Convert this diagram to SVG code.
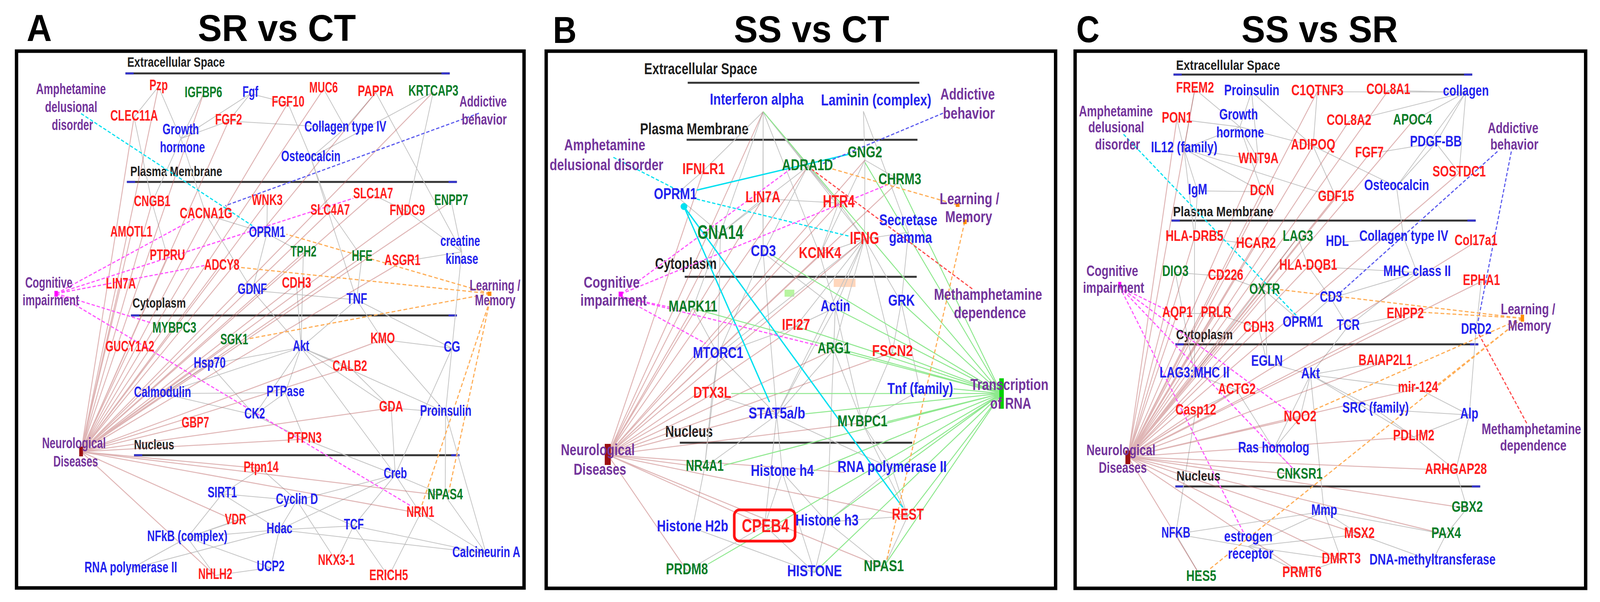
<svg xmlns="http://www.w3.org/2000/svg" width="4262" height="1542" viewBox="0 0 4262 1542">
<style>
text{font-family:"Liberation Sans",Arial,Helvetica,sans-serif;font-weight:bold;font-size:38px}
.ttl{font-size:96px;fill:#000}
.B text{font-size:40px}
.r{fill:#ff1e1e}.b{fill:#2222ee}.g{fill:#0a7d28}.p{fill:#74359c}.k{fill:#1e1e1e}
.cmp{font-size:36px}
.frame{fill:none;stroke:#000;stroke-width:9}
.cl{stroke:#333;stroke-width:5}
.ct{stroke:#3333cc;stroke-width:5}
.eg{stroke:#c4c4c4;stroke-width:2;fill:none}
.en{stroke:#b85a5a;stroke-opacity:.45;stroke-width:2.5;fill:none}
.ep{stroke:#ff55ff;stroke-width:3;stroke-dasharray:9 5;fill:none}
.ec{stroke:#00e0f0;stroke-width:3;stroke-dasharray:9 5;fill:none}
.ecs{stroke:#00e0f0;stroke-width:3.5;fill:none}
.eb{stroke:#5a5aee;stroke-width:3;stroke-dasharray:9 5;fill:none}
.eo{stroke:#ffad55;stroke-width:3;stroke-dasharray:10 6;fill:none}
.er{stroke:#ff4a4a;stroke-width:3;stroke-dasharray:9 5;fill:none}
.egr{stroke:#8ee88e;stroke-width:2.5;fill:none}
</style>
<rect width="4262" height="1542" fill="#fff"/>
<g id="diagram" transform="matrix(0.961 0 0 1 0 0)">

<g id="titles">
<text class="ttl" x="71" y="105" textLength="67" lengthAdjust="spacingAndGlyphs">A</text>
<text class="ttl" x="527" y="105" textLength="421" lengthAdjust="spacingAndGlyphs">SR vs CT</text>
<text class="ttl" x="1473" y="110" textLength="63" lengthAdjust="spacingAndGlyphs">B</text>
<text class="ttl" x="1955" y="108" textLength="414" lengthAdjust="spacingAndGlyphs">SS vs CT</text>
<text class="ttl" x="2867" y="108" textLength="62" lengthAdjust="spacingAndGlyphs">C</text>
<text class="ttl" x="3307" y="108" textLength="417" lengthAdjust="spacingAndGlyphs">SS vs SR</text>
</g>

<!-- ================= PANEL A ================= -->
<g id="panelA-frame">
<rect class="frame" x="44" y="131" width="1352" height="1375"/>
<line class="cl" x1="334" y1="188" x2="1198" y2="188"/><line class="ct" x1="334" y1="188" x2="356" y2="188"/><line class="ct" x1="1176" y1="188" x2="1198" y2="188"/>
<line class="cl" x1="338" y1="466" x2="1217" y2="466"/><line class="ct" x1="338" y1="466" x2="360" y2="466"/><line class="ct" x1="1195" y1="466" x2="1217" y2="466"/>
<line class="cl" x1="349" y1="808" x2="1217" y2="808"/><line class="ct" x1="349" y1="808" x2="371" y2="808"/><line class="ct" x1="1195" y1="808" x2="1217" y2="808"/>
<line class="cl" x1="357" y1="1166" x2="1224" y2="1166"/><line class="ct" x1="357" y1="1166" x2="379" y2="1166"/><line class="ct" x1="1202" y1="1166" x2="1224" y2="1166"/>
<text class="k cmp" x="339" y="171" textLength="260" lengthAdjust="spacingAndGlyphs">Extracellular Space</text>
<text class="k cmp" x="347" y="451" textLength="245" lengthAdjust="spacingAndGlyphs">Plasma Membrane</text>
<text class="k cmp" x="353" y="788" textLength="142" lengthAdjust="spacingAndGlyphs">Cytoplasm</text>
<text class="k cmp" x="357" y="1151" textLength="107" lengthAdjust="spacingAndGlyphs">Nucleus</text>
</g>

<g id="connectors-A">
<path class="eg" d="M422 222L482 355M422 222L357 300M542 240L482 355M667 240L609 310M667 240L767 264M667 240L482 355M609 310L482 355M609 310L920 328M767 264L828 404M862 228L920 328M1001 237L920 328M1001 237L1230 645M1154 236L828 404M1154 236L1085 542M920 328L828 404M482 355L549 550M482 355L405 519M828 404L879 541M828 404L950 768M357 300L405 519M405 519L446 657M549 550L711 598M549 550L672 744M712 516L711 598M711 598L808 648M711 598L672 744M879 541L964 659M994 499L1085 542M1085 542L1230 645M1202 516L1230 645M964 659L950 768M1072 670L1230 645M808 648L802 890M672 744L802 890M672 744L950 768M950 768L802 890M950 768L1019 870M950 768L1204 892M1230 645L1204 892M790 728L802 890M802 890L558 933M802 890L760 1006M802 890L932 941M802 890L433 1008M802 890L678 1063M802 890L1042 1045M802 890L1187 1056M802 890L1053 1216M558 933L433 1008M558 933L678 1063M433 1008L760 1006M433 1008L678 1063M760 1006L678 1063M1019 870L1187 1056M1019 870L1204 892M1204 892L1187 1056M1204 892L1053 1216M932 941L1042 1045M1042 1045L1187 1056M1042 1045L1053 1216M1187 1056L1186 1270M1187 1056L1295 1418M678 1063L811 1125M760 1006L811 1125M811 1125L1053 1216M695 1200L791 1282M695 1200L592 1265M1053 1216L791 1282M1053 1216L1186 1270M1053 1216L942 1347M1053 1216L744 1357M592 1265L499 1377M592 1265L744 1357M592 1265L791 1282M791 1282L744 1357M791 1282L942 1347M791 1282L896 1438M744 1357L499 1377M744 1357L721 1454M744 1357L942 1347M942 1347L896 1438M499 1377L348 1457M499 1377L573 1474M499 1377L721 1454M499 1377L627 1334M627 1334L791 1282M1120 1315L1295 1418M1120 1315L1035 1477M1186 1270L1295 1418M573 1474L721 1454M1295 1418L942 1347M1295 1418L744 1357M1035 1477L942 1347M1120 1315L1053 1216M348 1457L744 1357M499 1377L791 1282"/>
<path class="en" d="M216 1157L422 222M216 1157L542 240M216 1157L357 300M216 1157L609 310M216 1157L767 264M216 1157L862 228M216 1157L1001 237M216 1157L1154 236M216 1157L405 519M216 1157L712 516M216 1157L549 550M216 1157L994 499M216 1157L879 541M216 1157L1085 542M216 1157L1202 516M216 1157L350 597M216 1157L446 657M216 1157L591 682M216 1157L808 648M216 1157L964 659M216 1157L1072 670M216 1157L322 730M216 1157L790 728M216 1157L464 843M216 1157L624 873M216 1157L346 891M216 1157L1019 870M216 1157L932 941M216 1157L1042 1045M216 1157L520 1086M216 1157L811 1125M216 1157L695 1200M216 1157L1186 1270M216 1157L1120 1315M216 1157L627 1334M216 1157L573 1474"/>
<line class="ec" x1="216" y1="291" x2="672" y2="578"/>
<line class="eb" x1="1276" y1="290" x2="600" y2="527"/>
<path class="ep" d="M150 752L516 561M150 752L663 594M150 752L941 508M150 752L545 680M150 752L283 728M150 752L406 828M150 752L1093 1295"/>
<path class="eo" d="M1305 752L763 600M1305 752L640 685M1305 752L661 868M1305 770L1120 1305M1305 770L1195 1262"/>
</g>

<g id="nodes-A">
<g id="A-Pzp" class="r"><text x="398" y="231" textLength="49" lengthAdjust="spacingAndGlyphs">Pzp</text></g>
<g id="A-IGFBP6" class="g"><text x="492" y="249" textLength="100" lengthAdjust="spacingAndGlyphs">IGFBP6</text></g>
<g id="A-Fgf" class="b"><text x="646" y="248" textLength="42" lengthAdjust="spacingAndGlyphs">Fgf</text></g>
<g id="A-CLEC11A" class="r"><text x="294" y="309" textLength="127" lengthAdjust="spacingAndGlyphs">CLEC11A</text></g>
<g id="A-FGF2" class="r"><text x="573" y="319" textLength="72" lengthAdjust="spacingAndGlyphs">FGF2</text></g>
<g id="A-FGF10" class="r"><text x="724" y="273" textLength="87" lengthAdjust="spacingAndGlyphs">FGF10</text></g>
<g id="A-MUC6" class="r"><text x="824" y="237" textLength="76" lengthAdjust="spacingAndGlyphs">MUC6</text></g>
<g id="A-PAPPA" class="r"><text x="953" y="246" textLength="96" lengthAdjust="spacingAndGlyphs">PAPPA</text></g>
<g id="A-KRTCAP3" class="g"><text x="1088" y="245" textLength="133" lengthAdjust="spacingAndGlyphs">KRTCAP3</text></g>
<g id="A-GrowthHormone" class="b"><text x="433" y="344" textLength="97" lengthAdjust="spacingAndGlyphs">Growth</text><text x="426" y="390" textLength="120" lengthAdjust="spacingAndGlyphs">hormone</text></g>
<g id="A-CollagenIV" class="b"><text x="811" y="337" textLength="218" lengthAdjust="spacingAndGlyphs">Collagen type IV</text></g>
<g id="A-Osteocalcin" class="b"><text x="749" y="413" textLength="158" lengthAdjust="spacingAndGlyphs">Osteocalcin</text></g>
<g id="A-CNGB1" class="r"><text x="357" y="528" textLength="97" lengthAdjust="spacingAndGlyphs">CNGB1</text></g>
<g id="A-WNK3" class="r"><text x="671" y="525" textLength="82" lengthAdjust="spacingAndGlyphs">WNK3</text></g>
<g id="A-CACNA1G" class="r"><text x="479" y="559" textLength="140" lengthAdjust="spacingAndGlyphs">CACNA1G</text></g>
<g id="A-SLC1A7" class="r"><text x="941" y="508" textLength="106" lengthAdjust="spacingAndGlyphs">SLC1A7</text></g>
<g id="A-SLC4A7" class="r"><text x="827" y="550" textLength="105" lengthAdjust="spacingAndGlyphs">SLC4A7</text></g>
<g id="A-FNDC9" class="r"><text x="1038" y="551" textLength="94" lengthAdjust="spacingAndGlyphs">FNDC9</text></g>
<g id="A-ENPP7" class="g"><text x="1157" y="525" textLength="90" lengthAdjust="spacingAndGlyphs">ENPP7</text></g>
<g id="A-OPRM1" class="b"><text x="663" y="607" textLength="97" lengthAdjust="spacingAndGlyphs">OPRM1</text></g>
<g id="A-AMOTL1" class="r"><text x="294" y="606" textLength="112" lengthAdjust="spacingAndGlyphs">AMOTL1</text></g>
<g id="A-PTPRU" class="r"><text x="399" y="666" textLength="94" lengthAdjust="spacingAndGlyphs">PTPRU</text></g>
<g id="A-ADCY8" class="r"><text x="544" y="691" textLength="94" lengthAdjust="spacingAndGlyphs">ADCY8</text></g>
<g id="A-TPH2" class="g"><text x="774" y="657" textLength="69" lengthAdjust="spacingAndGlyphs">TPH2</text></g>
<g id="A-HFE" class="g"><text x="937" y="668" textLength="55" lengthAdjust="spacingAndGlyphs">HFE</text></g>
<g id="A-ASGR1" class="r"><text x="1024" y="679" textLength="96" lengthAdjust="spacingAndGlyphs">ASGR1</text></g>
<g id="A-CreatineKinase" class="b"><text x="1173" y="630" textLength="106" lengthAdjust="spacingAndGlyphs">creatine</text><text x="1187" y="676" textLength="87" lengthAdjust="spacingAndGlyphs">kinase</text></g>
<g id="A-LIN7A" class="r"><text x="282" y="739" textLength="80" lengthAdjust="spacingAndGlyphs">LIN7A</text></g>
<g id="A-GDNF" class="b"><text x="633" y="753" textLength="78" lengthAdjust="spacingAndGlyphs">GDNF</text></g>
<g id="A-CDH3" class="r"><text x="751" y="737" textLength="78" lengthAdjust="spacingAndGlyphs">CDH3</text></g>
<g id="A-TNF" class="b"><text x="923" y="778" textLength="55" lengthAdjust="spacingAndGlyphs">TNF</text></g>
<g id="A-MYBPC3" class="g"><text x="406" y="852" textLength="117" lengthAdjust="spacingAndGlyphs">MYBPC3</text></g>
<g id="A-SGK1" class="g"><text x="587" y="882" textLength="74" lengthAdjust="spacingAndGlyphs">SGK1</text></g>
<g id="A-GUCY1A2" class="r"><text x="281" y="900" textLength="130" lengthAdjust="spacingAndGlyphs">GUCY1A2</text></g>
<g id="A-Akt" class="b"><text x="780" y="899" textLength="44" lengthAdjust="spacingAndGlyphs">Akt</text></g>
<g id="A-KMO" class="r"><text x="987" y="879" textLength="65" lengthAdjust="spacingAndGlyphs">KMO</text></g>
<g id="A-CG" class="b"><text x="1182" y="901" textLength="44" lengthAdjust="spacingAndGlyphs">CG</text></g>
<g id="A-Hsp70" class="b"><text x="516" y="942" textLength="85" lengthAdjust="spacingAndGlyphs">Hsp70</text></g>
<g id="A-CALB2" class="r"><text x="886" y="950" textLength="92" lengthAdjust="spacingAndGlyphs">CALB2</text></g>
<g id="A-Calmodulin" class="b"><text x="357" y="1017" textLength="152" lengthAdjust="spacingAndGlyphs">Calmodulin</text></g>
<g id="A-PTPase" class="b"><text x="710" y="1015" textLength="101" lengthAdjust="spacingAndGlyphs">PTPase</text></g>
<g id="A-GDA" class="r"><text x="1010" y="1054" textLength="64" lengthAdjust="spacingAndGlyphs">GDA</text></g>
<g id="A-Proinsulin" class="b"><text x="1119" y="1065" textLength="137" lengthAdjust="spacingAndGlyphs">Proinsulin</text></g>
<g id="A-CK2" class="b"><text x="651" y="1072" textLength="55" lengthAdjust="spacingAndGlyphs">CK2</text></g>
<g id="A-GBP7" class="r"><text x="484" y="1095" textLength="73" lengthAdjust="spacingAndGlyphs">GBP7</text></g>
<g id="A-PTPN3" class="r"><text x="765" y="1134" textLength="92" lengthAdjust="spacingAndGlyphs">PTPN3</text></g>
<g id="A-Ptpn14" class="r"><text x="649" y="1209" textLength="93" lengthAdjust="spacingAndGlyphs">Ptpn14</text></g>
<g id="A-Creb" class="b"><text x="1022" y="1225" textLength="62" lengthAdjust="spacingAndGlyphs">Creb</text></g>
<g id="A-SIRT1" class="b"><text x="553" y="1274" textLength="78" lengthAdjust="spacingAndGlyphs">SIRT1</text></g>
<g id="A-NPAS4" class="g"><text x="1139" y="1279" textLength="94" lengthAdjust="spacingAndGlyphs">NPAS4</text></g>
<g id="A-CyclinD" class="b"><text x="735" y="1291" textLength="112" lengthAdjust="spacingAndGlyphs">Cyclin D</text></g>
<g id="A-NRN1" class="r"><text x="1083" y="1324" textLength="74" lengthAdjust="spacingAndGlyphs">NRN1</text></g>
<g id="A-VDR" class="r"><text x="599" y="1343" textLength="57" lengthAdjust="spacingAndGlyphs">VDR</text></g>
<g id="A-Hdac" class="b"><text x="710" y="1366" textLength="69" lengthAdjust="spacingAndGlyphs">Hdac</text></g>
<g id="A-TCF" class="b"><text x="916" y="1356" textLength="53" lengthAdjust="spacingAndGlyphs">TCF</text></g>
<g id="A-NFkB" class="b"><text x="392" y="1386" textLength="214" lengthAdjust="spacingAndGlyphs">NFkB (complex)</text></g>
<g id="A-CalcineurinA" class="b"><text x="1205" y="1427" textLength="181" lengthAdjust="spacingAndGlyphs">Calcineurin A</text></g>
<g id="A-NKX3-1" class="r"><text x="847" y="1447" textLength="98" lengthAdjust="spacingAndGlyphs">NKX3-1</text></g>
<g id="A-UCP2" class="b"><text x="684" y="1463" textLength="74" lengthAdjust="spacingAndGlyphs">UCP2</text></g>
<g id="A-RNApolII" class="b"><text x="225" y="1466" textLength="247" lengthAdjust="spacingAndGlyphs">RNA polymerase II</text></g>
<g id="A-NHLH2" class="r"><text x="528" y="1483" textLength="91" lengthAdjust="spacingAndGlyphs">NHLH2</text></g>
<g id="A-ERICH5" class="r"><text x="984" y="1486" textLength="103" lengthAdjust="spacingAndGlyphs">ERICH5</text></g>
<g id="A-Amphetamine" class="p"><text x="96" y="241" textLength="186" lengthAdjust="spacingAndGlyphs">Amphetamine</text><text x="120" y="287" textLength="139" lengthAdjust="spacingAndGlyphs">delusional</text><text x="138" y="333" textLength="110" lengthAdjust="spacingAndGlyphs">disorder</text></g>
<g id="A-Addictive" class="p"><text x="1224" y="273" textLength="126" lengthAdjust="spacingAndGlyphs">Addictive</text><text x="1230" y="319" textLength="120" lengthAdjust="spacingAndGlyphs">behavior</text></g>
<g id="A-Cognitive" class="p"><rect x="145" y="745" width="9" height="15" fill="#ff00ff"/><text x="67" y="737" textLength="126" lengthAdjust="spacingAndGlyphs">Cognitive</text><text x="60" y="782" textLength="151" lengthAdjust="spacingAndGlyphs">impairment</text></g>
<g id="A-Learning" class="p"><rect x="1299" y="747" width="10" height="11" fill="#ff8c00"/><text x="1251" y="744" textLength="135" lengthAdjust="spacingAndGlyphs">Learning /</text><text x="1265" y="782" textLength="108" lengthAdjust="spacingAndGlyphs">Memory</text></g>
<g id="A-Neuro" class="p"><rect x="211" y="1144" width="10" height="25" fill="#9b1010"/><text x="112" y="1148" textLength="170" lengthAdjust="spacingAndGlyphs">Neurological</text><text x="142" y="1195" textLength="119" lengthAdjust="spacingAndGlyphs">Diseases</text></g>
</g>

<!-- ================= PANEL B ================= -->
<g id="panelB-frame" class="B">
<rect class="frame" x="1455" y="131" width="1357" height="1376"/>
<line class="cl" x1="1832" y1="212" x2="2449" y2="212"/>
<line class="cl" x1="1829" y1="358" x2="2444" y2="358"/>
<line class="cl" x1="1824" y1="709" x2="2442" y2="709"/>
<line class="cl" x1="1811" y1="1134" x2="2430" y2="1134"/>
<text class="k" x="1716" y="190" textLength="301" lengthAdjust="spacingAndGlyphs">Extracellular Space</text>
<text class="k" x="1705" y="344" textLength="289" lengthAdjust="spacingAndGlyphs">Plasma Membrane</text>
<text class="k" x="1745" y="689" textLength="164" lengthAdjust="spacingAndGlyphs">Cytoplasm</text>
<text class="k" x="1772" y="1119" textLength="127" lengthAdjust="spacingAndGlyphs">Nucleus</text>
<rect x="2090" y="742" width="26" height="18" fill="#b8f5a0"/>
<rect x="2221" y="714" width="58" height="21" fill="#ffd6bc"/>
</g>

<g id="connectors-B">
<path class="eg" d="M2033 286L1874 437M2033 286L2032 509M2033 286L2151 427M2033 286L2033 647M2033 286L1919 598M2033 286L2184 652M2033 286L2303 612M2033 286L2234 520M2300 285L2304 410M2300 285L2420 595M2304 410L2397 462M2304 410L2303 612M2304 410L2184 652M2151 427L2234 520M2151 427L1919 598M2151 427L2033 647M2032 509L2033 647M2032 509L1919 598M2032 509L2234 520M1799 500L1919 598M1799 500L1874 437M2234 520L2303 612M2234 520L2184 652M2303 612L2420 595M2303 612L2184 652M2303 612L2225 788M2303 612L2401 775M2303 612L2120 836M2303 612L2221 896M2303 612L1913 908M2303 612L2069 1063M2303 612L2377 903M2033 647L1913 908M2033 647L2069 1063M2033 647L2225 788M2184 652L2225 788M1919 598L1913 908M1919 598L1846 789M1846 789L1913 908M1913 908L1897 1010M1913 908L2069 1063M1913 908L1877 1197M2225 788L2221 896M2225 788L2069 1063M2225 788L2297 1083M2225 788L2203 1337M2401 775L2377 903M2401 775L2451 1000M2221 896L2069 1063M2221 896L2297 1083M2069 1063L2084 1210M2069 1063L1897 1010M2069 1063L1877 1197M2069 1063L2037 1346M2069 1063L2376 1200M1897 1010L1877 1197M1877 1197L1845 1352M2084 1210L2203 1337M2084 1210L2037 1346M2084 1210L2170 1467M2376 1200L2418 1322M2376 1200L2203 1337M2376 1200L2297 1083M2297 1083L2418 1322M2451 1000L2297 1083M2203 1337L2354 1454M2203 1337L2170 1467M2037 1346L2170 1467M2037 1346L1830 1462M2203 1337L2418 1322M2354 1454L2418 1322M1845 1352L2170 1467M2120 836L2225 788M2120 836L1913 908M2377 903L2297 1083M2420 595L2401 775"/>
<path class="en" d="M1619 1165L1874 437M1619 1165L2151 427M1619 1165L2304 410M1619 1165L2397 462M1619 1165L2032 509M1619 1165L2234 520M1619 1165L1919 598M1619 1165L2303 612M1619 1165L2184 652M1619 1165L1846 789M1619 1165L2120 836M1619 1165L2221 896M1619 1165L2377 903M1619 1165L1897 1010M1619 1165L2297 1083M1619 1165L1877 1197M1619 1165L2418 1322M1619 1165L2037 1346M1619 1165L1830 1462M1619 1165L2354 1454M1619 1165L2033 286M1619 1165L2110 1040M1619 1165L2250 1210"/>
<path class="egr" d="M2668 1008L2033 286M2668 1008L2304 416M2668 1008L2397 470M2668 1008L2050 650M2668 1008L1846 790M2668 1008L2120 836M2668 1008L2225 790M2668 1008L2221 896M2668 1008L2377 903M2668 1008L2401 775M2668 1008L2540 996M2668 1008L2145 1060M2668 1008L1948 1008M2668 1008L2364 1080M2668 1008L1928 1192M2668 1008L2168 1206M2668 1008L2376 1200M2668 1008L2203 1336M2668 1008L2170 1466M2668 1008L2354 1452M2668 1008L2418 1322M2668 1008L1886 1445"/>
<line class="ec" x1="1634" y1="403" x2="1815" y2="492"/>
<line class="ecs" x1="1856" y1="487" x2="2262" y2="395"/>
<line class="ec" x1="1856" y1="510" x2="2262" y2="605"/>
<line class="ecs" x1="1822" y1="529" x2="2405" y2="1300"/>
<line class="ecs" x1="1822" y1="529" x2="2050" y2="1030"/>
<path class="ep" d="M1654 753L2110 430M1654 753L2362 474M1654 760L1800 790M1654 760L1880 880M1654 760L2178 885"/>
<line class="eb" x1="2512" y1="290" x2="2190" y2="420"/>
<path class="eo" d="M2551 525L2215 432M2570 568L2362 1435"/>
<line class="er" x1="2590" y1="740" x2="2163" y2="434"/>
</g>

<g id="nodes-B" class="B">
<g id="B-InterferonAlpha" class="b"><text x="1891" y="268" textLength="250" lengthAdjust="spacingAndGlyphs">Interferon alpha</text></g>
<g id="B-Laminin" class="b"><text x="2187" y="270" textLength="294" lengthAdjust="spacingAndGlyphs">Laminin (complex)</text></g>
<g id="B-IFNLR1" class="r"><text x="1818" y="446" textLength="113" lengthAdjust="spacingAndGlyphs">IFNLR1</text></g>
<g id="B-ADRA1D" class="g"><text x="2083" y="436" textLength="136" lengthAdjust="spacingAndGlyphs">ADRA1D</text></g>
<g id="B-GNG2" class="g"><text x="2258" y="403" textLength="92" lengthAdjust="spacingAndGlyphs">GNG2</text></g>
<g id="B-CHRM3" class="g"><text x="2340" y="472" textLength="114" lengthAdjust="spacingAndGlyphs">CHRM3</text></g>
<g id="B-OPRM1" class="b"><circle cx="1822" cy="529" r="9" fill="#00e0f0"/><text x="1742" y="510" textLength="114" lengthAdjust="spacingAndGlyphs">OPRM1</text></g>
<g id="B-LIN7A" class="r"><text x="1986" y="518" textLength="93" lengthAdjust="spacingAndGlyphs">LIN7A</text></g>
<g id="B-HTR4" class="r"><text x="2192" y="531" textLength="85" lengthAdjust="spacingAndGlyphs" style="font-size:44px">HTR4</text></g>
<g id="B-GNA14" class="g"><text x="1858" y="612" textLength="122" lengthAdjust="spacingAndGlyphs" style="font-size:50px">GNA14</text></g>
<g id="B-Secretase" class="b"><text x="2342" y="577" textLength="155" lengthAdjust="spacingAndGlyphs">Secretase</text><text x="2368" y="622" textLength="115" lengthAdjust="spacingAndGlyphs">gamma</text></g>
<g id="B-IFNG" class="r"><text x="2264" y="625" textLength="78" lengthAdjust="spacingAndGlyphs" style="font-size:44px">IFNG</text></g>
<g id="B-CD3" class="b"><text x="2000" y="656" textLength="67" lengthAdjust="spacingAndGlyphs">CD3</text></g>
<g id="B-KCNK4" class="r"><text x="2128" y="661" textLength="113" lengthAdjust="spacingAndGlyphs">KCNK4</text></g>
<g id="B-GRK" class="b"><text x="2366" y="783" textLength="71" lengthAdjust="spacingAndGlyphs">GRK</text></g>
<g id="B-Actin" class="b"><text x="2186" y="797" textLength="79" lengthAdjust="spacingAndGlyphs">Actin</text></g>
<g id="B-MAPK11" class="g"><text x="1781" y="798" textLength="130" lengthAdjust="spacingAndGlyphs">MAPK11</text></g>
<g id="B-IFI27" class="r"><text x="2083" y="845" textLength="75" lengthAdjust="spacingAndGlyphs">IFI27</text></g>
<g id="B-ARG1" class="g"><text x="2178" y="905" textLength="87" lengthAdjust="spacingAndGlyphs">ARG1</text></g>
<g id="B-FSCN2" class="r"><text x="2323" y="912" textLength="109" lengthAdjust="spacingAndGlyphs">FSCN2</text></g>
<g id="B-MTORC1" class="b"><text x="1846" y="917" textLength="134" lengthAdjust="spacingAndGlyphs">MTORC1</text></g>
<g id="B-Tnf" class="b"><text x="2364" y="1009" textLength="175" lengthAdjust="spacingAndGlyphs">Tnf (family)</text></g>
<g id="B-DTX3L" class="r"><text x="1847" y="1019" textLength="101" lengthAdjust="spacingAndGlyphs">DTX3L</text></g>
<g id="B-STAT5" class="b"><text x="1994" y="1072" textLength="151" lengthAdjust="spacingAndGlyphs">STAT5a/b</text></g>
<g id="B-MYBPC1" class="g"><text x="2231" y="1092" textLength="133" lengthAdjust="spacingAndGlyphs">MYBPC1</text></g>
<g id="B-NR4A1" class="g"><text x="1827" y="1206" textLength="101" lengthAdjust="spacingAndGlyphs">NR4A1</text></g>
<g id="B-HistoneH4" class="b"><text x="2000" y="1219" textLength="168" lengthAdjust="spacingAndGlyphs">Histone h4</text></g>
<g id="B-RNApolII" class="b"><text x="2231" y="1209" textLength="291" lengthAdjust="spacingAndGlyphs">RNA polymerase II</text></g>
<g id="B-REST" class="r"><text x="2376" y="1331" textLength="85" lengthAdjust="spacingAndGlyphs">REST</text></g>
<g id="B-HistoneH2b" class="b"><text x="1750" y="1361" textLength="190" lengthAdjust="spacingAndGlyphs">Histone H2b</text></g>
<g id="B-CPEB4" class="r"><rect x="1956" y="1306" width="162" height="80" rx="14" fill="none" stroke="#ff1010" stroke-width="7"/><text x="1976" y="1363" textLength="126" lengthAdjust="spacingAndGlyphs" style="font-size:48px">CPEB4</text></g>
<g id="B-HistoneH3" class="b"><text x="2119" y="1346" textLength="168" lengthAdjust="spacingAndGlyphs">Histone h3</text></g>
<g id="B-PRDM8" class="g"><text x="1774" y="1471" textLength="112" lengthAdjust="spacingAndGlyphs">PRDM8</text></g>
<g id="B-HISTONE" class="b"><text x="2097" y="1476" textLength="146" lengthAdjust="spacingAndGlyphs">HISTONE</text></g>
<g id="B-NPAS1" class="g"><text x="2301" y="1463" textLength="107" lengthAdjust="spacingAndGlyphs">NPAS1</text></g>
<g id="B-Amphetamine" class="p"><text x="1503" y="385" textLength="216" lengthAdjust="spacingAndGlyphs">Amphetamine</text><text x="1464" y="436" textLength="303" lengthAdjust="spacingAndGlyphs">delusional disorder</text></g>
<g id="B-Addictive" class="p"><text x="2505" y="255" textLength="145" lengthAdjust="spacingAndGlyphs">Addictive</text><text x="2512" y="304" textLength="138" lengthAdjust="spacingAndGlyphs">behavior</text></g>
<g id="B-Cognitive" class="p"><rect x="1648" y="747" width="11" height="13" fill="#ff00ff"/><text x="1555" y="737" textLength="149" lengthAdjust="spacingAndGlyphs">Cognitive</text><text x="1546" y="783" textLength="177" lengthAdjust="spacingAndGlyphs">impairment</text></g>
<g id="B-Learning" class="p"><rect x="2546" y="520" width="10" height="10" fill="#ff8c00"/><rect x="2566" y="562" width="9" height="12" fill="#ff8c00"/><text x="2503" y="523" textLength="159" lengthAdjust="spacingAndGlyphs">Learning /</text><text x="2518" y="569" textLength="125" lengthAdjust="spacingAndGlyphs">Memory</text></g>
<g id="B-Meth" class="p"><text x="2488" y="768" textLength="288" lengthAdjust="spacingAndGlyphs">Methamphetamine</text><text x="2541" y="815" textLength="192" lengthAdjust="spacingAndGlyphs">dependence</text></g>
<g id="B-Neuro" class="p"><rect x="1611" y="1137" width="16" height="54" fill="#9b1010"/><text x="1494" y="1166" textLength="197" lengthAdjust="spacingAndGlyphs">Neurological</text><text x="1528" y="1216" textLength="140" lengthAdjust="spacingAndGlyphs">Diseases</text></g>
<g id="B-Transcription" class="p"><rect x="2662" y="969" width="12" height="78" fill="#00d000"/><text x="2585" y="999" textLength="208" lengthAdjust="spacingAndGlyphs">Transcription</text><text x="2638" y="1047" textLength="109" lengthAdjust="spacingAndGlyphs">of RNA</text></g>
</g>

<!-- ================= PANEL C ================= -->
<g id="panelC-frame">
<rect class="frame" x="2864" y="131" width="1360" height="1376"/>
<line class="cl" x1="3126" y1="191" x2="3922" y2="191"/><line class="ct" x1="3126" y1="191" x2="3148" y2="191"/><line class="ct" x1="3900" y1="191" x2="3922" y2="191"/>
<line class="cl" x1="3121" y1="565" x2="3931" y2="565"/><line class="ct" x1="3121" y1="565" x2="3143" y2="565"/><line class="ct" x1="3909" y1="565" x2="3931" y2="565"/>
<line class="cl" x1="3131" y1="882" x2="3938" y2="882"/><line class="ct" x1="3131" y1="882" x2="3153" y2="882"/><line class="ct" x1="3916" y1="882" x2="3938" y2="882"/>
<line class="cl" x1="3131" y1="1246" x2="3943" y2="1246"/><line class="ct" x1="3131" y1="1246" x2="3153" y2="1246"/><line class="ct" x1="3921" y1="1246" x2="3943" y2="1246"/>
<text class="k cmp" x="3133" y="179" textLength="277" lengthAdjust="spacingAndGlyphs">Extracellular Space</text>
<text class="k cmp" x="3125" y="554" textLength="267" lengthAdjust="spacingAndGlyphs">Plasma Membrane</text>
<text class="k cmp" x="3133" y="869" textLength="151" lengthAdjust="spacingAndGlyphs">Cytoplasm</text>
<text class="k cmp" x="3134" y="1231" textLength="117" lengthAdjust="spacingAndGlyphs">Nucleus</text>
</g>

<g id="connectors-C">
<path class="eg" d="M3183 228L3303 325M3183 228L3154 381M3334 235L3303 325M3334 235L3498 374M3334 235L3352 409M3509 235L3498 374M3509 235L3905 236M3698 232L3905 236M3593 311L3905 236M3763 310L3905 236M3825 366L3905 236M3905 236L3887 443M3905 236L3720 478M3303 325L3154 381M3303 325L3498 374M3303 325L3352 409M3303 325L3362 491M3135 305L3154 381M3135 305L3303 325M3154 381L3190 489M3154 381L3362 491M3154 381L3182 608M3154 381L3352 409M3154 381L3559 506M3498 374L3559 506M3498 374L3720 478M3648 394L3825 366M3825 366L3720 478M3825 366L3887 443M3720 478L3739 608M3190 489L3362 491M3190 489L3182 608M3182 608L3346 626M3182 608L3182 958M3457 608L3485 682M3457 608L3182 958M3485 682L3775 698M3485 682L3545 764M3562 621L3739 608M3739 608L3775 698M3775 698L3591 836M3775 698L3545 764M3545 764L3591 836M3545 764L3470 828M3470 828L3369 744M3369 744L3265 708M3369 744L3375 928M3131 698L3265 708M3131 698L3182 958M3136 803L3239 803M3239 803L3353 841M3353 841L3375 928M3591 836L3491 960M3591 836L3743 806M3946 721L3932 846M3932 846L3914 1063M3491 960L3375 928M3491 960L3463 1070M3491 960L3664 1048M3491 960L3690 926M3491 960L3777 995M3491 960L3393 1150M3491 960L3766 1119M3491 960L3527 1310M3664 1048L3914 1063M3664 1048L3766 1119M3777 995L3914 1063M3914 1063L3878 1205M3914 1063L3766 1119M3393 1150L3462 1217M3393 1150L3463 1070M3393 1150L3295 1000M3185 1053L3295 1000M3182 958L3295 1000M3766 1119L3878 1205M3878 1205L3908 1302M3527 1310L3621 1369M3527 1310L3852 1369M3527 1310L3573 1434M3527 1310L3325 1400M3132 1368L3325 1400M3132 1368L3200 1479M3132 1368L3527 1310M3325 1400L3468 1469M3325 1400L3573 1434M3621 1369L3816 1437M3852 1369L3816 1437M3908 1302L3852 1369M3573 1434L3468 1469M3325 1400L3621 1369M3132 1368L3185 1053"/>
<path class="en" d="M3005 1170L3183 228M3005 1170L3135 305M3005 1170L3509 235M3005 1170L3698 232M3005 1170L3593 311M3005 1170L3498 374M3005 1170L3352 409M3005 1170L3362 491M3005 1170L3559 506M3005 1170L3648 394M3005 1170L3763 310M3005 1170L3887 443M3005 1170L3182 608M3005 1170L3346 626M3005 1170L3457 608M3005 1170L3485 682M3005 1170L3131 698M3005 1170L3265 708M3005 1170L3369 744M3005 1170L3136 803M3005 1170L3239 803M3005 1170L3353 841M3005 1170L3743 806M3005 1170L3946 721M3005 1170L3932 619M3005 1170L3295 1000M3005 1170L3185 1053M3005 1170L3463 1070M3005 1170L3690 926M3005 1170L3777 995M3005 1170L3766 1119M3005 1170L3878 1205M3005 1170L3462 1217M3005 1170L3908 1302M3005 1170L3852 1369M3005 1170L3621 1369M3005 1170L3573 1434M3005 1170L3468 1469M3005 1170L3200 1479"/>
<line class="ec" x1="2993" y1="344" x2="3460" y2="815"/>
<path class="eb" d="M3989 388L3558 760M4026 388L3936 830"/>
<path class="ep" d="M2983 735L3120 800M2983 735L3443 1199M2983 735L3312 1363M2983 735L3440 1060"/>
<path class="eo" d="M4055 815L3410 742M4055 815L3790 800M4055 815L3830 985M4055 815L3500 1050M4055 815L3222 1458"/>
<line class="er" x1="4067" y1="1084" x2="3940" y2="857"/>
</g>

<g id="nodes-C">
<g id="C-FREM2" class="r"><text x="3133" y="237" textLength="101" lengthAdjust="spacingAndGlyphs">FREM2</text></g>
<g id="C-Proinsulin" class="b"><text x="3261" y="244" textLength="147" lengthAdjust="spacingAndGlyphs">Proinsulin</text></g>
<g id="C-C1QTNF3" class="r"><text x="3440" y="244" textLength="139" lengthAdjust="spacingAndGlyphs">C1QTNF3</text></g>
<g id="C-COL8A1" class="r"><text x="3640" y="241" textLength="117" lengthAdjust="spacingAndGlyphs">COL8A1</text></g>
<g id="C-collagen" class="b"><text x="3844" y="245" textLength="122" lengthAdjust="spacingAndGlyphs">collagen</text></g>
<g id="C-PON1" class="r"><text x="3095" y="314" textLength="81" lengthAdjust="spacingAndGlyphs">PON1</text></g>
<g id="C-GrowthHormone" class="b"><text x="3248" y="306" textLength="103" lengthAdjust="spacingAndGlyphs">Growth</text><text x="3240" y="352" textLength="127" lengthAdjust="spacingAndGlyphs">hormone</text></g>
<g id="C-COL8A2" class="r"><text x="3534" y="320" textLength="119" lengthAdjust="spacingAndGlyphs">COL8A2</text></g>
<g id="C-APOC4" class="g"><text x="3711" y="319" textLength="104" lengthAdjust="spacingAndGlyphs">APOC4</text></g>
<g id="C-PDGF-BB" class="b"><text x="3756" y="375" textLength="138" lengthAdjust="spacingAndGlyphs">PDGF-BB</text></g>
<g id="C-IL12" class="b"><text x="3066" y="390" textLength="177" lengthAdjust="spacingAndGlyphs">IL12 (family)</text></g>
<g id="C-ADIPOQ" class="r"><text x="3439" y="383" textLength="118" lengthAdjust="spacingAndGlyphs">ADIPOQ</text></g>
<g id="C-FGF7" class="r"><text x="3610" y="403" textLength="76" lengthAdjust="spacingAndGlyphs">FGF7</text></g>
<g id="C-WNT9A" class="r"><text x="3299" y="418" textLength="107" lengthAdjust="spacingAndGlyphs">WNT9A</text></g>
<g id="C-SOSTDC1" class="r"><text x="3816" y="452" textLength="142" lengthAdjust="spacingAndGlyphs">SOSTDC1</text></g>
<g id="C-Osteocalcin" class="b"><text x="3634" y="487" textLength="173" lengthAdjust="spacingAndGlyphs">Osteocalcin</text></g>
<g id="C-IgM" class="b"><text x="3165" y="498" textLength="51" lengthAdjust="spacingAndGlyphs">IgM</text></g>
<g id="C-DCN" class="r"><text x="3330" y="500" textLength="64" lengthAdjust="spacingAndGlyphs">DCN</text></g>
<g id="C-GDF15" class="r"><text x="3511" y="515" textLength="96" lengthAdjust="spacingAndGlyphs">GDF15</text></g>
<g id="C-HLA-DRB5" class="r"><text x="3105" y="617" textLength="154" lengthAdjust="spacingAndGlyphs">HLA-DRB5</text></g>
<g id="C-LAG3" class="g"><text x="3417" y="617" textLength="81" lengthAdjust="spacingAndGlyphs">LAG3</text></g>
<g id="C-CollagenIV" class="b"><text x="3621" y="617" textLength="237" lengthAdjust="spacingAndGlyphs">Collagen type IV</text></g>
<g id="C-HCAR2" class="r"><text x="3293" y="635" textLength="106" lengthAdjust="spacingAndGlyphs">HCAR2</text></g>
<g id="C-HDL" class="b"><text x="3532" y="630" textLength="61" lengthAdjust="spacingAndGlyphs">HDL</text></g>
<g id="C-Col17a1" class="r"><text x="3875" y="628" textLength="114" lengthAdjust="spacingAndGlyphs">Col17a1</text></g>
<g id="C-HLA-DQB1" class="r"><text x="3408" y="691" textLength="154" lengthAdjust="spacingAndGlyphs">HLA-DQB1</text></g>
<g id="C-MHCII" class="b"><text x="3685" y="707" textLength="180" lengthAdjust="spacingAndGlyphs">MHC class II</text></g>
<g id="C-DIO3" class="g"><text x="3096" y="707" textLength="70" lengthAdjust="spacingAndGlyphs">DIO3</text></g>
<g id="C-CD226" class="r"><text x="3218" y="717" textLength="94" lengthAdjust="spacingAndGlyphs">CD226</text></g>
<g id="C-EPHA1" class="r"><text x="3897" y="730" textLength="99" lengthAdjust="spacingAndGlyphs">EPHA1</text></g>
<g id="C-OXTR" class="g"><text x="3328" y="753" textLength="82" lengthAdjust="spacingAndGlyphs">OXTR</text></g>
<g id="C-CD3" class="b"><text x="3516" y="773" textLength="59" lengthAdjust="spacingAndGlyphs">CD3</text></g>
<g id="C-AQP1" class="r"><text x="3096" y="812" textLength="81" lengthAdjust="spacingAndGlyphs">AQP1</text></g>
<g id="C-PRLR" class="r"><text x="3199" y="812" textLength="81" lengthAdjust="spacingAndGlyphs">PRLR</text></g>
<g id="C-ENPP2" class="r"><text x="3694" y="815" textLength="99" lengthAdjust="spacingAndGlyphs">ENPP2</text></g>
<g id="C-OPRM1" class="b"><text x="3417" y="837" textLength="107" lengthAdjust="spacingAndGlyphs">OPRM1</text></g>
<g id="C-TCR" class="b"><text x="3561" y="845" textLength="61" lengthAdjust="spacingAndGlyphs">TCR</text></g>
<g id="C-CDH3" class="r"><text x="3312" y="850" textLength="82" lengthAdjust="spacingAndGlyphs">CDH3</text></g>
<g id="C-DRD2" class="b"><text x="3892" y="855" textLength="81" lengthAdjust="spacingAndGlyphs">DRD2</text></g>
<g id="C-BAIAP2L1" class="r"><text x="3619" y="935" textLength="143" lengthAdjust="spacingAndGlyphs">BAIAP2L1</text></g>
<g id="C-EGLN" class="b"><text x="3333" y="937" textLength="84" lengthAdjust="spacingAndGlyphs">EGLN</text></g>
<g id="C-LAG3MHCII" class="b"><text x="3089" y="967" textLength="186" lengthAdjust="spacingAndGlyphs">LAG3:MHC II</text></g>
<g id="C-Akt" class="b"><text x="3466" y="969" textLength="50" lengthAdjust="spacingAndGlyphs">Akt</text></g>
<g id="C-mir124" class="r"><text x="3724" y="1004" textLength="107" lengthAdjust="spacingAndGlyphs">mir-124</text></g>
<g id="C-ACTG2" class="r"><text x="3245" y="1009" textLength="100" lengthAdjust="spacingAndGlyphs">ACTG2</text></g>
<g id="C-SRC" class="b"><text x="3576" y="1057" textLength="177" lengthAdjust="spacingAndGlyphs">SRC (family)</text></g>
<g id="C-Casp12" class="r"><text x="3131" y="1062" textLength="109" lengthAdjust="spacingAndGlyphs">Casp12</text></g>
<g id="C-Alp" class="b"><text x="3890" y="1072" textLength="48" lengthAdjust="spacingAndGlyphs">Alp</text></g>
<g id="C-NQO2" class="r"><text x="3420" y="1079" textLength="87" lengthAdjust="spacingAndGlyphs">NQO2</text></g>
<g id="C-PDLIM2" class="r"><text x="3711" y="1128" textLength="110" lengthAdjust="spacingAndGlyphs">PDLIM2</text></g>
<g id="C-RasHomolog" class="b"><text x="3298" y="1159" textLength="190" lengthAdjust="spacingAndGlyphs">Ras homolog</text></g>
<g id="C-ARHGAP28" class="r"><text x="3796" y="1214" textLength="165" lengthAdjust="spacingAndGlyphs">ARHGAP28</text></g>
<g id="C-CNKSR1" class="g"><text x="3401" y="1226" textLength="122" lengthAdjust="spacingAndGlyphs">CNKSR1</text></g>
<g id="C-GBX2" class="g"><text x="3867" y="1311" textLength="83" lengthAdjust="spacingAndGlyphs">GBX2</text></g>
<g id="C-Mmp" class="b"><text x="3493" y="1319" textLength="69" lengthAdjust="spacingAndGlyphs">Mmp</text></g>
<g id="C-NFKB" class="b"><text x="3094" y="1377" textLength="77" lengthAdjust="spacingAndGlyphs">NFKB</text></g>
<g id="C-EstrogenReceptor" class="b"><text x="3261" y="1387" textLength="129" lengthAdjust="spacingAndGlyphs">estrogen</text><text x="3271" y="1431" textLength="121" lengthAdjust="spacingAndGlyphs">receptor</text></g>
<g id="C-MSX2" class="r"><text x="3581" y="1378" textLength="81" lengthAdjust="spacingAndGlyphs">MSX2</text></g>
<g id="C-PAX4" class="g"><text x="3813" y="1378" textLength="79" lengthAdjust="spacingAndGlyphs">PAX4</text></g>
<g id="C-DMRT3" class="r"><text x="3521" y="1443" textLength="104" lengthAdjust="spacingAndGlyphs">DMRT3</text></g>
<g id="C-DNAMT" class="b"><text x="3648" y="1446" textLength="336" lengthAdjust="spacingAndGlyphs">DNA-methyltransferase</text></g>
<g id="C-PRMT6" class="r"><text x="3416" y="1478" textLength="105" lengthAdjust="spacingAndGlyphs">PRMT6</text></g>
<g id="C-HES5" class="g"><text x="3160" y="1488" textLength="80" lengthAdjust="spacingAndGlyphs">HES5</text></g>
<g id="C-Amphetamine" class="p"><text x="2874" y="298" textLength="197" lengthAdjust="spacingAndGlyphs">Amphetamine</text><text x="2899" y="339" textLength="149" lengthAdjust="spacingAndGlyphs">delusional</text><text x="2917" y="383" textLength="120" lengthAdjust="spacingAndGlyphs">disorder</text></g>
<g id="C-Addictive" class="p"><text x="3963" y="341" textLength="135" lengthAdjust="spacingAndGlyphs">Addictive</text><text x="3970" y="383" textLength="128" lengthAdjust="spacingAndGlyphs">behavior</text></g>
<g id="C-Cognitive" class="p"><rect x="2979" y="722" width="8" height="14" fill="#ff00ff"/><text x="2894" y="707" textLength="138" lengthAdjust="spacingAndGlyphs">Cognitive</text><text x="2885" y="750" textLength="163" lengthAdjust="spacingAndGlyphs">impairment</text></g>
<g id="C-Learning" class="p"><rect x="4051" y="806" width="9" height="18" fill="#ff8c00"/><text x="3998" y="805" textLength="145" lengthAdjust="spacingAndGlyphs">Learning /</text><text x="4017" y="847" textLength="115" lengthAdjust="spacingAndGlyphs">Memory</text></g>
<g id="C-Meth" class="p"><text x="3947" y="1112" textLength="265" lengthAdjust="spacingAndGlyphs">Methamphetamine</text><text x="3996" y="1154" textLength="177" lengthAdjust="spacingAndGlyphs">dependence</text></g>
<g id="C-Neuro" class="p"><rect x="2998" y="1154" width="13" height="35" fill="#9b1010"/><text x="2894" y="1166" textLength="184" lengthAdjust="spacingAndGlyphs">Neurological</text><text x="2927" y="1211" textLength="128" lengthAdjust="spacingAndGlyphs">Diseases</text></g>
</g>
</g>
</svg>
